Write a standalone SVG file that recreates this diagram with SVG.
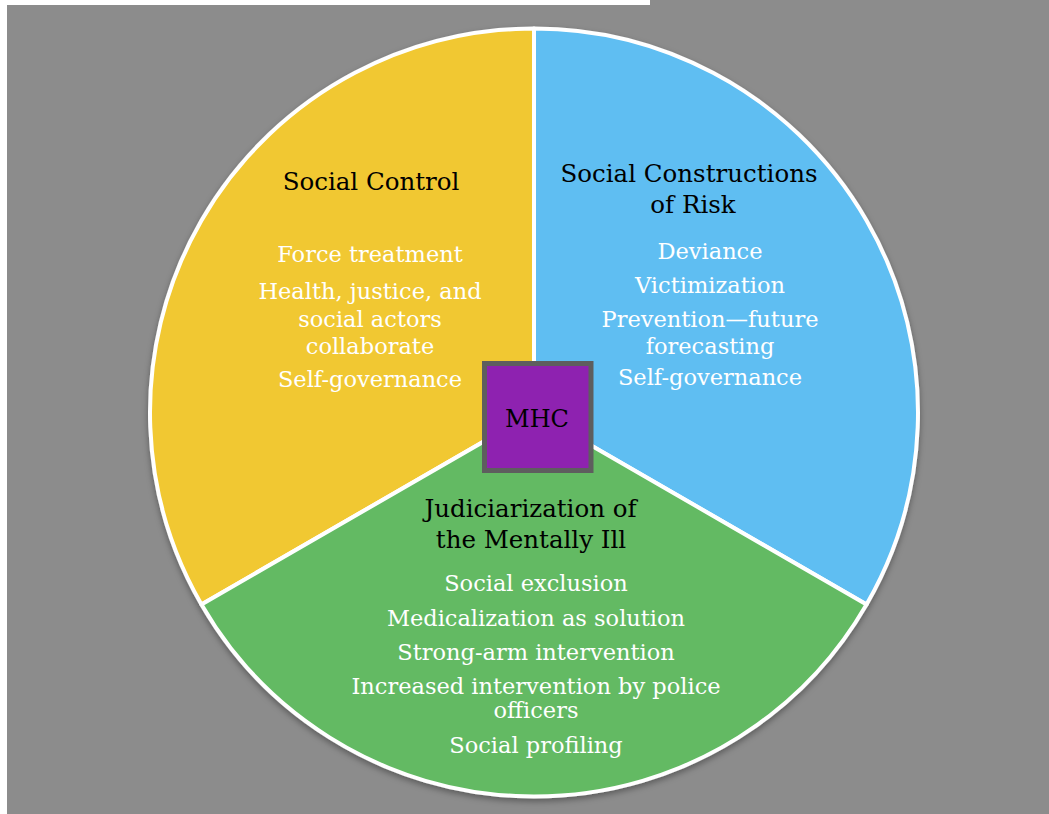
<svg xmlns="http://www.w3.org/2000/svg" width="1049" height="814" viewBox="0 0 1049 814">
  <style>
    .wedge { stroke: #ffffff; stroke-width: 4; stroke-linejoin: round; }
    .title { font-family: "DejaVu Serif", "Liberation Serif", serif; font-size: 24.5px; fill: #000000; text-anchor: middle; }
    .item { font-family: "DejaVu Serif", "Liberation Serif", serif; font-size: 22.5px; fill: #ffffff; text-anchor: middle; }
    .hub { font-family: "DejaVu Serif", "Liberation Serif", serif; font-size: 24px; fill: #000000; text-anchor: middle; }
  </style>
  <defs>
    <filter id="shadow" x="-10%" y="-10%" width="120%" height="125%">
      <feDropShadow dx="0" dy="3" stdDeviation="3" flood-color="#000000" flood-opacity="0.35"/>
    </filter>
  </defs>

  <!-- page background -->
  <rect x="0" y="0" width="1049" height="814" fill="#ffffff"/>
  <rect x="7" y="5" width="1042" height="809" fill="#8c8c8c"/>
  <rect x="650" y="0" width="399" height="5" fill="#8c8c8c"/>

  <!-- three sectors around the centre (534, 412.5), r = 384 -->
  <g id="pie" filter="url(#shadow)">
    <g id="social-control">
      <path class="wedge" fill="#f1c832" d="M534,412.5 L534,28.5 A384,384 0 0 0 201.45,604.5 Z"/>
    </g>
    <g id="social-constructions-of-risk">
      <path class="wedge" fill="#5ebef2" d="M534,412.5 L534,28.5 A384,384 0 0 1 866.55,604.5 Z"/>
    </g>
    <g id="judiciarization">
      <path class="wedge" fill="#63ba64" d="M534,412.5 L201.45,604.5 A384,384 0 0 0 866.55,604.5 Z"/>
    </g>
  </g>

  <g id="social-control-text">
    <text class="title" x="371" y="190">Social Control</text>
    <text class="item" x="370" y="262">Force treatment</text>
    <text class="item" x="370" y="299">Health, justice, and</text>
    <text class="item" x="370" y="327">social actors</text>
    <text class="item" x="370" y="354">collaborate</text>
    <text class="item" x="370" y="387">Self-governance</text>
  </g>

  <g id="social-constructions-of-risk-text">
    <text class="title" x="689" y="182">Social Constructions</text>
    <text class="title" x="693" y="213">of Risk</text>
    <text class="item" x="710" y="259">Deviance</text>
    <text class="item" x="710" y="293">Victimization</text>
    <text class="item" x="710" y="327">Prevention—future</text>
    <text class="item" x="710" y="354">forecasting</text>
    <text class="item" x="710" y="385">Self-governance</text>
  </g>

  <g id="judiciarization-text">
    <text class="title" x="530.5" y="517">Judiciarization of</text>
    <text class="title" x="531" y="548">the Mentally Ill</text>
    <text class="item" x="536" y="591">Social exclusion</text>
    <text class="item" x="536" y="626">Medicalization as solution</text>
    <text class="item" x="536" y="660">Strong-arm intervention</text>
    <text class="item" x="536" y="694">Increased intervention by police</text>
    <text class="item" x="536" y="718">officers</text>
    <text class="item" x="536" y="753">Social profiling</text>
  </g>

  <!-- centre box -->
  <g id="mhc">
    <rect x="484.5" y="363.5" width="106.5" height="107" fill="#8e22b0" stroke="#5e5e5e" stroke-width="5"/>
    <text class="hub" x="537" y="427">MHC</text>
  </g>

  <g id="connectors"/>
</svg>
